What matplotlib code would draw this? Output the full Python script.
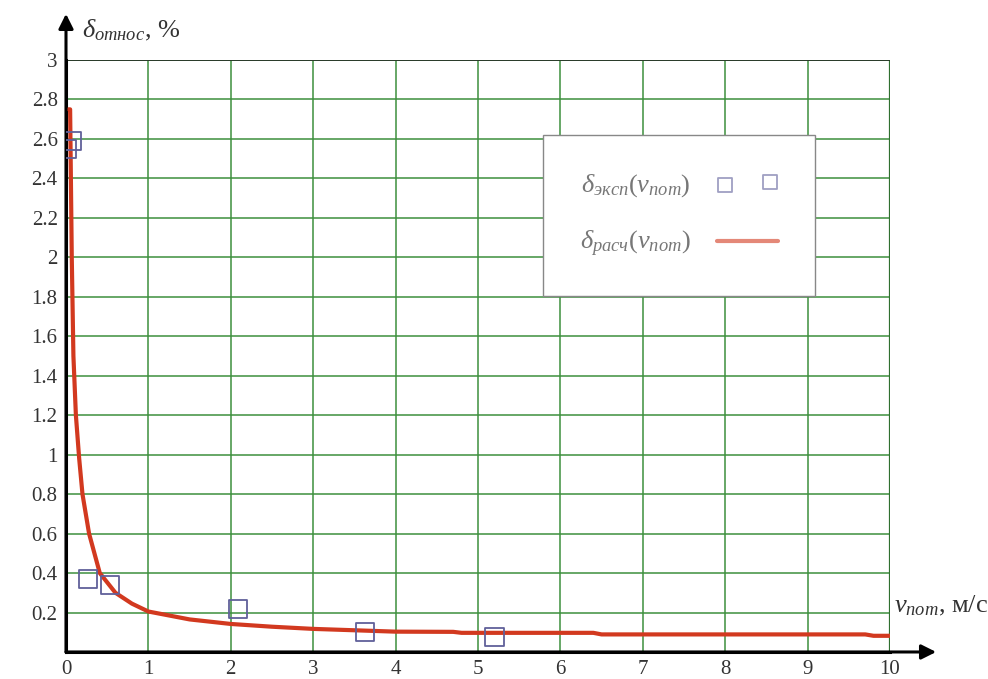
import numpy as np
import matplotlib.pyplot as plt

plt.rcParams['font.family'] = ['Liberation Serif', 'DejaVu Serif']
plt.rcParams['mathtext.fontset'] = 'custom'
plt.rcParams['mathtext.rm'] = 'Liberation Serif'
plt.rcParams['mathtext.it'] = 'Liberation Serif:italic'

# экспериментальные точки
v_exp = [0.01, 0.07, 0.27, 0.53, 2.09, 3.63, 5.2]
d_exp = [2.55, 2.59, 0.37, 0.34, 0.22, 0.10, 0.076]

# расчётная кривая
v_calc = [0.03, 0.05, 0.07, 0.09, 0.12, 0.16, 0.20, 0.28, 0.41, 0.60, 0.80, 1.0,
          1.5, 2.0, 2.5, 3.0, 3.5, 4.0, 4.7, 4.8, 6.4, 6.5, 9.7, 9.8, 10.0]
d_calc = [2.75, 2.75, 2.0, 1.5, 1.2, 0.98, 0.8, 0.6, 0.4, 0.3, 0.245, 0.205,
          0.165, 0.142, 0.128, 0.117, 0.11, 0.103, 0.102, 0.097, 0.097, 0.089, 0.089, 0.082, 0.082]

x_ticks = list(range(0, 11))
y_ticks = [0.2, 0.4, 0.6, 0.8, 1, 1.2, 1.4, 1.6, 1.8, 2, 2.2, 2.4, 2.6, 2.8, 3]
y_labels = ['0.2', '0.4', '0.6', '0.8', '1', '1.2', '1.4', '1.6', '1.8', '2',
            '2.2', '2.4', '2.6', '2.8', '3']

fig = plt.figure(figsize=(9.88, 6.79), dpi=100)
ax = fig.add_axes([0.0668, 0.0398, 0.834, 0.8718])

ax.plot(v_calc, d_calc, color='#d2391f', lw=3, solid_capstyle='round',
        label=r'$\delta_{\mathit{расч}}(v_{\mathit{пот}})$', zorder=3)
ax.scatter(v_exp, d_exp, marker='s', s=170, facecolors='none',
           edgecolors='#60609a', linewidths=1.3, zorder=4,
           label=r'$\delta_{\mathit{эксп}}(v_{\mathit{пот}})$')

ax.set_xlim(0, 10)
ax.set_ylim(0, 3)
ax.set_xticks(x_ticks)
ax.set_yticks(y_ticks)
ax.set_yticklabels(y_labels)
ax.tick_params(length=0, labelsize=15, colors='#333333', pad=6)
ax.grid(True, color='#3d8f3d', lw=1.1)
ax.set_axisbelow(True)

for s in ['top', 'right']:
    ax.spines[s].set_visible(False)
for s in ['left', 'bottom']:
    ax.spines[s].set_linewidth(2.2)
ax.axvline(10, color='#2f6f2f', lw=1.6, zorder=1)
ax.axhline(3, color='#2a3a2a', lw=1.4, zorder=1)

# стрелки осей
ax.annotate('', xy=(0, 1.078), xycoords='axes fraction', xytext=(0, 0),
            arrowprops=dict(arrowstyle='-|>', lw=2.2, color='black', mutation_scale=22,
                            shrinkA=0, shrinkB=0))
ax.annotate('', xy=(1.056, 0), xycoords='axes fraction', xytext=(0, 0),
            arrowprops=dict(arrowstyle='-|>', lw=2.2, color='black', mutation_scale=22,
                            shrinkA=0, shrinkB=0))

fig.text(0.083, 0.955, r'$\delta_{\mathit{относ}}$, %', fontsize=19, color='#333333',
         va='center')
fig.text(0.905, 0.108, r'$v_{\mathit{пот}}$, м/с', fontsize=19, color='#333333',
         va='center')

h, l = ax.get_legend_handles_labels()
leg = ax.legend(h[::-1], l[::-1], loc='upper left', bbox_to_anchor=(0.579, 0.873),
                markerfirst=False, scatterpoints=2, fontsize=19, borderpad=1.4,
                labelspacing=1.15, handlelength=2.3, handletextpad=1.0,
                fancybox=False, framealpha=1, edgecolor='#888888', borderaxespad=0)
for t in leg.get_texts():
    t.set_color('#777777')
leg.legend_handles[0].set_sizes([100])
leg.legend_handles[0].set_alpha(0.6)
leg.legend_handles[1].set_alpha(0.6)

fig.savefig('out.png', dpi=100)
